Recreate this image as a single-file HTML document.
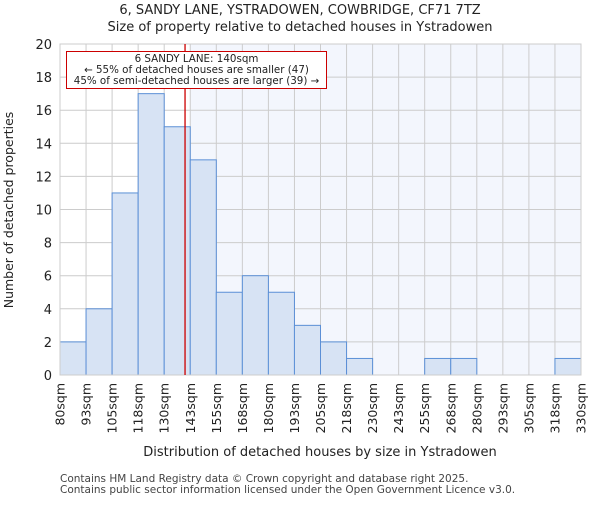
<!DOCTYPE html>
<html><head><meta charset="utf-8"><style>body{margin:0;background:#fff}svg{font-family:"DejaVu Sans","Liberation Sans",sans-serif}</style></head>
<body>
<svg id="c" width="600" height="500" xmlns="http://www.w3.org/2000/svg">
<text x="300" y="14" text-anchor="middle" font-size="13" fill="#222">6, SANDY LANE, YSTRADOWEN, COWBRIDGE, CF71 7TZ</text>
<text x="300" y="31" text-anchor="middle" font-size="13" fill="#222">Size of property relative to detached houses in Ystradowen</text>
<g id="plot"></g>
<text x="320" y="456" text-anchor="middle" font-size="13" fill="#222">Distribution of detached houses by size in Ystradowen</text>
<text transform="translate(13,210) rotate(-90)" text-anchor="middle" font-size="12.5" fill="#222">Number of detached properties</text>
<text x="60" y="482" font-size="10.5" fill="#444">Contains HM Land Registry data © Crown copyright and database right 2025.</text>
<text x="60" y="493" font-size="10.5" fill="#444">Contains public sector information licensed under the Open Government Licence v3.0.</text>
</svg>
<script>
const categories=["80sqm","93sqm","105sqm","118sqm","130sqm","143sqm","155sqm","168sqm","180sqm","193sqm","205sqm","218sqm","230sqm","243sqm","255sqm","268sqm","280sqm","293sqm","305sqm","318sqm","330sqm"];
const counts=[2,4,11,17,15,13,5,6,5,3,2,1,0,0,1,1,0,0,0,1];
const yTicks=[0,2,4,6,8,10,12,14,16,18,20];
const edgeStart=80, edgeEnd=330, propertySize=140;
const L=60,R=581,T=44,B=375,yMax=20;
const NS="http://www.w3.org/2000/svg";
const g=document.getElementById('plot');
const n=counts.length,bw=(R-L)/n;
const xs=v=>L+(v-edgeStart)/(edgeEnd-edgeStart)*(R-L);
const xi=i=>L+i*bw;
const y=v=>B-v/yMax*(B-T);
function mk(t,a){const e=document.createElementNS(NS,t);for(const k in a)e.setAttribute(k,a[k]);g.appendChild(e);return e;}
const px=xs(propertySize);
const shadeStart=xi(Math.ceil((propertySize-edgeStart)/(edgeEnd-edgeStart)*n));
let bg=mk('rect',{x:shadeStart,y:T,width:R-shadeStart,height:B-T,fill:'#f3f6fd'});


for(let i=0;i<=n;i++){const l=mk('line',{x1:xi(i),x2:xi(i),y1:T,y2:B,stroke:'#ccc','stroke-width':1});

}
yTicks.forEach(t=>{const l=mk('line',{x1:L,x2:R,y1:y(t),y2:y(t),stroke:'#ccc','stroke-width':1});


const tx=mk('text',{x:L-8,y:y(t)+5,'text-anchor':'end','font-size':13,fill:'#222'});tx.textContent=t;

});
counts.forEach((c,i)=>{if(c<=0)return;const r=mk('rect',{x:xi(i),y:y(c),width:bw,height:B-y(c),fill:'#d7e3f4',stroke:'#5b8fd6','stroke-width':1});

});
categories.forEach((c,i)=>{const tx=mk('text',{transform:`translate(${xi(i)+4.5},383) rotate(-90)`,'text-anchor':'end','font-size':12.5,fill:'#222'});tx.textContent=c;

});
let ax=mk('rect',{x:L,y:T,width:R-L,height:B-T,fill:'none',stroke:'#ccc'});


let pl=mk('line',{x1:px,x2:px,y1:T,y2:B,stroke:'#cc0000','stroke-width':1.3});


let box=mk('rect',{x:66.5,y:51.5,width:260,height:37,fill:'#fff',stroke:'#cc0000','stroke-width':1});


["6 SANDY LANE: 140sqm","← 55% of detached houses are smaller (47)","45% of semi-detached houses are larger (39) →"].forEach((s,k)=>{const tx=mk('text',{x:196.5,y:62+k*11,'text-anchor':'middle','font-size':10.3,fill:'#222'});tx.textContent=s;

});
</script>
</body></html>
